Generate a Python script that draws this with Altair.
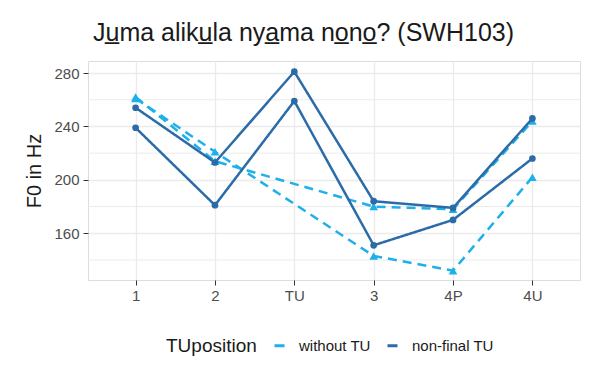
import altair as alt
import pandas as pd

positions = ["1", "2", "TU", "3", "4P", "4U"]
groups = ["without TU", "non-final TU"]

# without TU (no TU syllable)
woA_pos = ["1", "2", "3", "4P", "4U"]
woA_f0 = [262, 214, 180, 178, 244]
woB_pos = ["1", "2", "3", "4P", "4U"]
woB_f0 = [261, 221, 143, 132, 202]

# non-final TU
nfC_pos = ["1", "2", "TU", "3", "4P", "4U"]
nfC_f0 = [254, 213, 281, 184, 179, 246]
nfD_pos = ["1", "2", "TU", "3", "4P", "4U"]
nfD_f0 = [239, 181, 259, 151, 170, 216]

minor_grid = [140, 180, 220, 260]

rows = []
for rep, (ps, vs, g) in enumerate([
    (woA_pos, woA_f0, "without TU"),
    (woB_pos, woB_f0, "without TU"),
    (nfC_pos, nfC_f0, "non-final TU"),
    (nfD_pos, nfD_f0, "non-final TU"),
]):
    for p, v in zip(ps, vs):
        rows.append({"pos": p, "f0": v, "TUposition": g, "rep": f"r{rep}"})
df = pd.DataFrame(rows)

colors = ["#1DB0EA", "#2B6CA8"]

xenc = alt.X("pos:N", sort=positions, title=None,
             scale=alt.Scale(type="point", padding=0.6),
             axis=alt.Axis(labelAngle=0, labelFontSize=15, labelColor="#4D4D4D",
                           labelFont="Liberation Sans", tickColor="#333333",
                           tickSize=5, labelPadding=3, domain=False,
                           grid=True, gridColor="#EBEBEB", gridWidth=1.3))
yenc = alt.Y("f0:Q", title="F0 in Hz",
             scale=alt.Scale(domain=[125, 289], nice=False, zero=False),
             axis=alt.Axis(values=[160, 200, 240, 280], labelFontSize=15,
                           labelColor="#4D4D4D", labelFont="Liberation Sans",
                           tickColor="#333333", tickSize=5, labelPadding=4,
                           domain=False, grid=True, gridColor="#EBEBEB",
                           gridWidth=1.3, titleFontSize=20,
                           titleFont="Liberation Sans", titleFontWeight="normal",
                           titleColor="#1a1a1a", titlePadding=9))
cenc = alt.Color("TUposition:N",
                 scale=alt.Scale(domain=groups, range=colors),
                 legend=alt.Legend(orient="none", direction="horizontal",
                                   legendX=78, legendY=277,
                                   titleOrient="left", title="TUposition",
                                   titleFontSize=19, titleFont="Liberation Sans",
                                   titleFontWeight="normal", titleColor="#1a1a1a",
                                   titlePadding=15,
                                   labelFontSize=15, labelFont="Liberation Sans",
                                   labelColor="#1a1a1a", labelOffset=12,
                                   symbolType="stroke", symbolSize=100,
                                   symbolStrokeWidth=3, symbolDash=[1, 0],
                                   columnPadding=10))

minor_df = pd.DataFrame({"v": minor_grid})
minor = alt.Chart(minor_df).mark_rule(color="#EBEBEB", strokeWidth=1).encode(
    y=alt.Y("v:Q", scale=alt.Scale(domain=[125, 289], nice=False, zero=False))
)

base = alt.Chart(df)

def layer_for(g, dash, shape, size):
    d = base.transform_filter(alt.datum.TUposition == g)
    ln = d.mark_line(strokeWidth=2.5, strokeDash=dash).encode(
        x=xenc, y=yenc, color=cenc, detail="rep:N")
    pt = d.mark_point(filled=True, opacity=1, shape=shape, size=size).encode(
        x=xenc, y=yenc, color=cenc)
    return [ln, pt]

layers = [minor] + layer_for("without TU", [9, 6], "triangle-up", 75) + \
    layer_for("non-final TU", [1, 0], "circle", 45)

chart = alt.layer(*layers).properties(
    width=492, height=219,
    title=alt.TitleParams("Ju\u0332ma aliku\u0332la nya\u0332ma no\u0332no\u0332? (SWH103)",
                          anchor="start", frame="group", dx=5, offset=15,
                          fontSize=25, font="Liberation Sans",
                          fontWeight="normal", color="#1a1a1a"),
    autosize=alt.AutoSizeParams(type="none"),
    padding={"left": 80, "top": 53, "right": 19, "bottom": 78},
).configure_view(stroke="#7a7a7a", strokeWidth=1.2).configure(background="white")

chart.save("out.html", embed_options={"renderer": "svg", "actions": False})
